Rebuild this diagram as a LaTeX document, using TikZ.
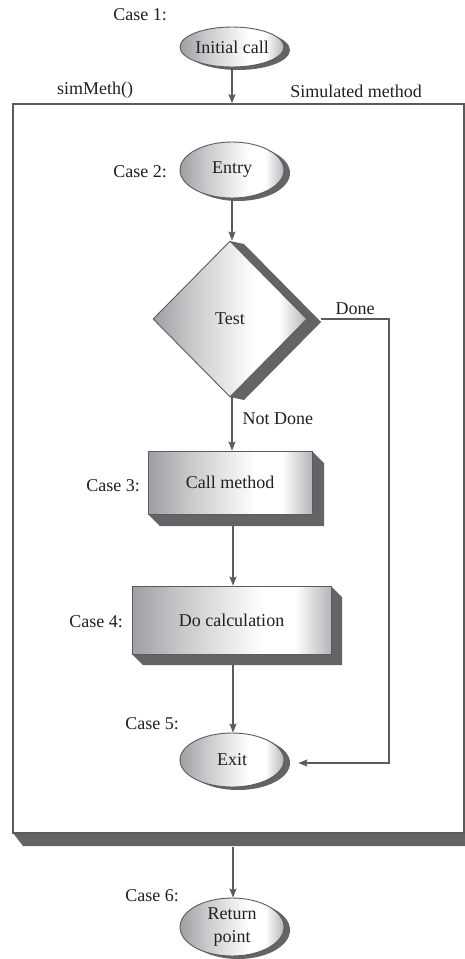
\documentclass[tikz,border=0pt]{standalone}
\usepackage{fontspec}
\setmainfont{Liberation Serif}
\usetikzlibrary{shapes.geometric,arrows.meta,calc}
\definecolor{shd}{HTML}{636466}
\definecolor{edge}{HTML}{5A5B5D}
\definecolor{gL}{HTML}{9D9FA2}
\definecolor{gR}{HTML}{B3B5B8}
\definecolor{txt}{HTML}{231F20}
\pgfdeclarehorizontalshading{fshade}{100bp}{color(0bp)=(gL); color(25bp)=(gL); color(38bp)=(gL!55!white); color(58bp)=(white); color(66bp)=(white); color(75bp)=(gR); color(100bp)=(gR)}
\tikzset{
  oval/.style={ellipse, draw=edge, line width=0.9pt, shading=fshade, inner sep=0pt, minimum width=104pt, text=txt},
  stepbox/.style={rectangle, draw=edge, line width=0.9pt, shading=fshade, inner sep=0pt, text=txt},
  testdia/.style={diamond, draw=edge, line width=0.9pt, shading=fshade, inner sep=0pt, minimum width=154pt, minimum height=156pt, text=txt},
  lbl/.style={text=txt, inner sep=0pt},
  arr/.style={draw=edge, line width=1.2pt, -{Stealth[length=9pt,width=7pt,inset=1.5pt]}},
  shadowfill/.style={fill=shd},
}
\begin{document}
\begin{tikzpicture}[x=1pt,y=-1pt, font=\fontsize{18}{22}\selectfont]
\useasboundingbox (0,0) rectangle (465,959);
% outer simulated method frame
\fill[shadowfill] (13,833) -- (23,846) -- (470,846) -- (470,833) -- cycle;
\node[draw=edge, line width=1.6pt, fill=white, minimum width=451pt, minimum height=729pt, inner sep=0pt] (sim) at (238.5,468.5) {};
\node[lbl] (simmeth) at (95,90) {simMeth()};
\node[lbl] (simlbl) at (356,91) {Simulated method};

% shadows (drawn first, behind the shapes)
\fill[shadowfill] (238,50) ellipse [x radius=52pt, y radius=20pt];
\fill[shadowfill] (238,173) ellipse [x radius=52pt, y radius=28pt];
\fill[shadowfill] (238,763) ellipse [x radius=52pt, y radius=27pt];
\fill[shadowfill] (238,930) ellipse [x radius=52pt, y radius=29pt];
\fill[shadowfill] (230,241) -- (244,244) -- (321,322) -- (244,400) -- (230,397) -- (307,319) -- cycle;
\fill[shadowfill] (312,451) -- (324,463) -- (324,526) -- (160,526) -- (148,514) -- (312,514) -- cycle;
\fill[shadowfill] (331,586) -- (342,597) -- (342,665) -- (143,665) -- (132,654) -- (331,654) -- cycle;

% nodes
\node[oval, minimum height=40pt] (init) at (232,47) {Initial call};
\node[lbl, anchor=east] (c1) at (167,15) {Case 1:};

\node[oval, minimum height=56pt] (entry) at (232,170) {Entry};
\node[lbl, anchor=east] (c2) at (167,172) {Case 2:};

\node[testdia] (test) at (230,319) {Test};

\node[stepbox, minimum width=164pt, minimum height=63pt] (call) at (230,482.5) {Call method};
\node[lbl, anchor=east] (c3) at (140,486) {Case 3:};

\node[stepbox, minimum width=199pt, minimum height=68pt] (calc) at (231.5,620) {Do calculation};
\node[lbl, anchor=east] (c4) at (123,622) {Case 4:};

\node[oval, minimum height=54pt] (exit) at (232,760) {Exit};
\node[lbl, anchor=east] (c5) at (179,724) {Case 5:};

\node[oval, minimum height=58pt, align=center, font=\fontsize{18}{23}\selectfont] (ret) at (232,927) {Return\\point};
\node[lbl, anchor=east] (c6) at (179,896) {Case 6:};

\coordinate (testR) at ($(test.east)+(14,0)$);
\coordinate (doneC) at (389,319);
\coordinate (callB) at ($(call.south)+(3,12)$);
\coordinate (calcB) at ($(calc.south)+(1.5,11)$);
\coordinate (simB) at ($(sim.south)+(-5.5,13)$);

% connectors
\draw[arr] (init.south) -- (init.south |- sim.north);
\draw[arr] (entry.south) -- (entry.south |- test.north);
\draw[arr] ($(test.south)+(2,0)$) -- node[lbl, right=10pt, pos=0.4] (nd) {Not Done} ($(test.south |- call.north)+(2,0)$);
\draw[arr] (callB) -- (callB |- calc.north);
\draw[arr] (calcB) -- (calcB |- exit.north);
\draw[arr] (testR) -- node[lbl, above=4pt, pos=0.5] (done) {Done} (doneC) |- ($(exit.east)+(14,3)$);
\draw[arr] (simB) -- (simB |- ret.north);
\end{tikzpicture}
\end{document}
